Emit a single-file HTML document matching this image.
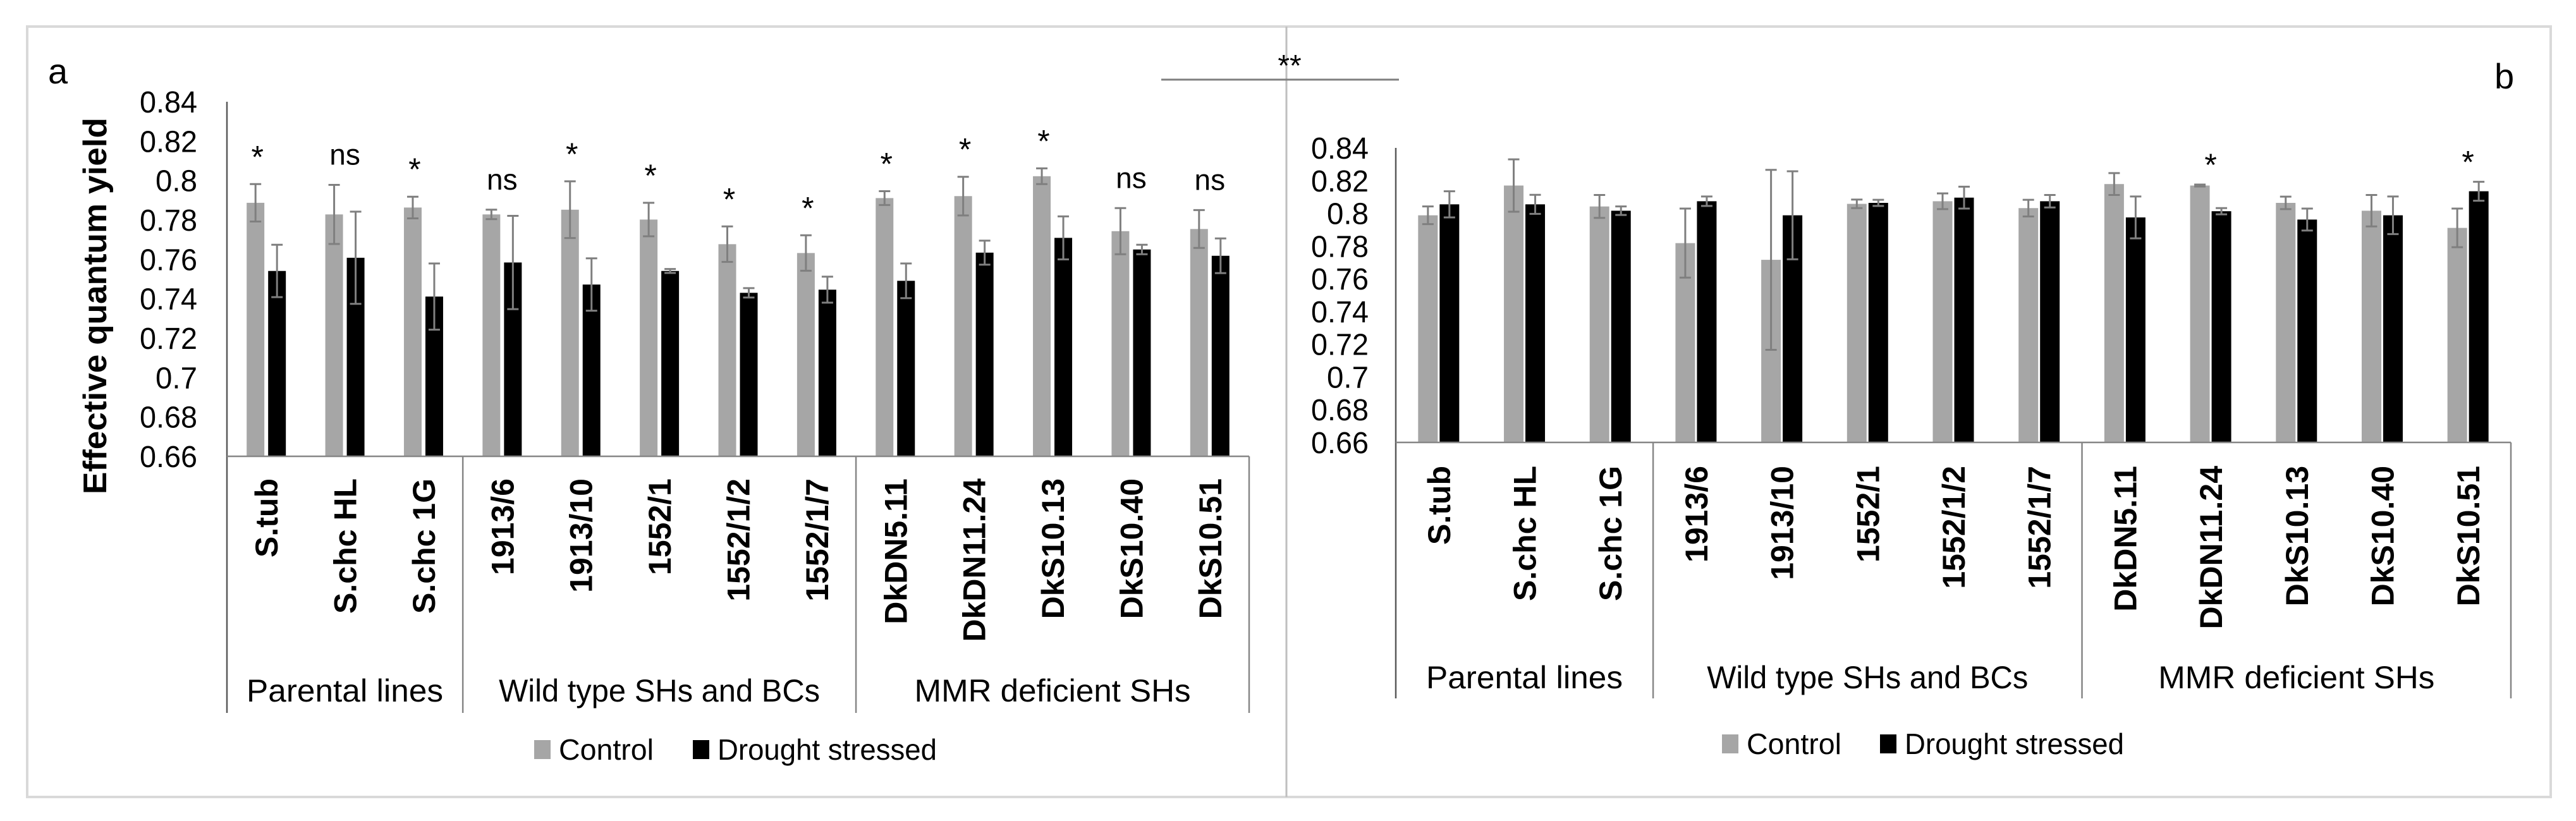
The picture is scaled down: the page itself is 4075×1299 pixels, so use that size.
<!DOCTYPE html>
<html><head><meta charset="utf-8"><style>
html,body{margin:0;padding:0;background:#fff}
svg{display:block;font-family:"Liberation Sans",sans-serif}
</style></head><body>
<svg id="chart" width="4075" height="1299" viewBox="0 0 4075 1299" xmlns="http://www.w3.org/2000/svg">
<rect x="43" y="42" width="3992" height="1219" fill="none" stroke="#d9d9d9" stroke-width="4"/>
<line x1="2035" y1="42" x2="2035" y2="1261" stroke="#bfbfbf" stroke-width="3"/>
<text x="76" y="132" font-size="56">a</text>
<text x="3946" y="140" font-size="56">b</text>
<line x1="1837" y1="126" x2="2213" y2="126" stroke="#7f7f7f" stroke-width="3"/>
<text x="2040" y="120" font-size="48" text-anchor="middle">**</text>
<text transform="translate(168,484) rotate(-90)" font-size="52" font-weight="bold" text-anchor="middle" textLength="596" lengthAdjust="spacingAndGlyphs">Effective quantum yield</text>
<g id="pa"></g>
<g id="pb"></g>
</svg>
<script>
const categories = ["S.tub","S.chc HL","S.chc 1G","1913/6","1913/10","1552/1","1552/1/2","1552/1/7","DkDN5.11","DkDN11.24","DkS10.13","DkS10.40","DkS10.51"];
const groupLabels = ["Parental lines","Wild type SHs and BCs","MMR deficient SHs"];
const groupSizes = [3,5,5];
const yTicks = [0.66,0.68,0.7,0.72,0.74,0.76,0.78,0.8,0.82,0.84];
const tickLabels = ["0.66","0.68","0.7","0.72","0.74","0.76","0.78","0.8","0.82","0.84"];
const controlA = [0.7887,0.7828,0.7863,0.7828,0.7852,0.7802,0.7677,0.7632,0.7911,0.7921,0.8022,0.7743,0.7754];
const controlErrA = [0.0095,0.015,0.0055,0.0024,0.0144,0.0085,0.009,0.009,0.0035,0.0098,0.004,0.0117,0.0096];
const droughtA = [0.7541,0.7608,0.7411,0.7584,0.7472,0.7541,0.7430,0.7446,0.7491,0.7634,0.7709,0.7650,0.7618];
const droughtErrA = [0.0133,0.0234,0.0168,0.0237,0.0133,0.001,0.0024,0.0066,0.0088,0.0061,0.0109,0.0024,0.0088];
const signifA = ["*","ns","*","ns","*","*","*","*","*","*","*","ns","ns"];
const controlB = [0.7988,0.817,0.8042,0.7818,0.7716,0.8058,0.8074,0.8032,0.8179,0.817,0.8064,0.8016,0.7911];
const controlErrB = [0.0054,0.016,0.007,0.0211,0.055,0.0026,0.0048,0.0051,0.0067,0.0006,0.0038,0.0096,0.0118];
const droughtB = [0.8055,0.8055,0.8016,0.8074,0.7988,0.8064,0.8096,0.8074,0.7975,0.8013,0.7962,0.7988,0.8135];
const droughtErrB = [0.008,0.0058,0.0026,0.0029,0.0269,0.0019,0.0067,0.0038,0.0128,0.0019,0.0067,0.0115,0.0058];
const signifB = ["","","","","","","","","","*","","","*"];

const NS="http://www.w3.org/2000/svg";
function mk(parent,tag,attrs,text){const e=document.createElementNS(NS,tag);for(const k in attrs)e.setAttribute(k,attrs[k]);if(text!==undefined)e.textContent=text;parent.appendChild(e);return e;}
const grpWidths=[311,508,437];

function panel(g,cfg,ctrl,ctrlErr,dr,drErr,sig,pfx){
  const yMin=0.66,yMax=0.84;
  const y=v=>cfg.y0-(v-yMin)/(yMax-yMin)*(cfg.y0-cfg.y1);
  const cw=(cfg.x1-cfg.x0)/categories.length;
  const cx=i=>cfg.x0+cw*(i+0.5);
  yTicks.forEach((t,i)=>{
    const e=mk(g,"text",{x:cfg.tickX,y:y(t)+17,"font-size":48,"text-anchor":"end",fill:"#000",textLength:tickLabels[i].length===3?66:91,lengthAdjust:"spacingAndGlyphs"},tickLabels[i]);
    
    
  });
  categories.forEach((c,i)=>{
    const bw=cfg.bw;
    const xc=cx(i)-cfg.off, xd=cx(i)+cfg.off;
    let r=mk(g,"rect",{x:xc-bw/2,y:y(ctrl[i]),width:bw,height:y(yMin)-y(ctrl[i]),fill:"#a6a6a6"});
    
    
    r=mk(g,"rect",{x:xd-bw/2,y:y(dr[i]),width:bw,height:y(yMin)-y(dr[i]),fill:"#000"});
    
    
    [[xc,ctrl[i],ctrlErr[i]],[xd,dr[i],drErr[i]]].forEach(([x,v,e])=>{
      const p=mk(g,"path",{d:`M${x} ${y(v-e)}V${y(v+e)}M${x-9} ${y(v+e)}H${x+9}M${x-9} ${y(v-e)}H${x+9}`,stroke:"#7f7f7f","stroke-width":3,fill:"none"});
      
      
    });
    if(sig[i]){
      let top, sx;
      if(cfg.sigOnDrought){ top=Math.min(y(dr[i]+drErr[i]),y(ctrl[i]+ctrlErr[i]))-14; sx=cx(i); }
      else { top=y(ctrl[i]+ctrlErr[i])-(sig[i]==="*"?26:32); sx=sig[i]==="*"?xc+3:cx(i); }
      const t=mk(g,"text",{x:sx,y:top,"font-size":sig[i]==="*"?50:46,"text-anchor":"middle"},sig[i]);
      
      
    }
    const lt=mk(g,"text",{transform:`translate(${cx(i)+18},${cfg.labTop}) rotate(-90)`,"font-size":50,"font-weight":"bold","text-anchor":"end"},c);
    
    
  });
  let a=mk(g,"line",{x1:cfg.x0,y1:cfg.y1,x2:cfg.x0,y2:cfg.boxB,stroke:"#595959","stroke-width":2.5});
  
  
  a=mk(g,"line",{x1:cfg.x0,y1:cfg.y0,x2:cfg.x1,y2:cfg.y0,stroke:"#868686","stroke-width":2.5});
  
  
  let start=0;
  groupSizes.forEach((n,gi)=>{
    const xa=cfg.x0+start*cw, xb=cfg.x0+(start+n)*cw;
    const l=mk(g,"line",{x1:xb,y1:cfg.y0,x2:xb,y2:cfg.boxB,stroke:"#868686","stroke-width":2.5});
    
    
    const t=mk(g,"text",{x:(xa+xb)/2,y:cfg.grpY+17,"font-size":50,"text-anchor":"middle",textLength:grpWidths[gi],lengthAdjust:"spacingAndGlyphs"},groupLabels[gi]);
    
    
    start+=n;
  });
  let s=mk(g,"rect",{x:cfg.legC,y:cfg.legY-15,width:26,height:30,fill:"#a6a6a6"});
  
  
  let t=mk(g,"text",{x:cfg.legC+39,y:cfg.legY+16,"font-size":46,textLength:150,lengthAdjust:"spacingAndGlyphs"},"Control");
  
  
  s=mk(g,"rect",{x:cfg.legD,y:cfg.legY-15,width:26,height:30,fill:"#000"});
  
  
  t=mk(g,"text",{x:cfg.legD+39,y:cfg.legY+16,"font-size":46,textLength:347,lengthAdjust:"spacingAndGlyphs"},"Drought stressed");
  
  
}
panel(document.getElementById("pa"),{x0:359,x1:1976,y0:722,y1:161,boxB:1128,tickX:312,bw:28,off:17,labTop:757,grpY:1093,legC:845,legD:1096,legY:1186,sigOnDrought:false},controlA,controlErrA,droughtA,droughtErrA,signifA,"a");
panel(document.getElementById("pb"),{x0:2208,x1:3972,y0:700,y1:234,boxB:1105,tickX:2165,bw:31,off:17,labTop:737,grpY:1072,legC:2724,legD:2974,legY:1177,sigOnDrought:true},controlB,controlErrB,droughtB,droughtErrB,signifB,"b");
</script>
</body></html>
